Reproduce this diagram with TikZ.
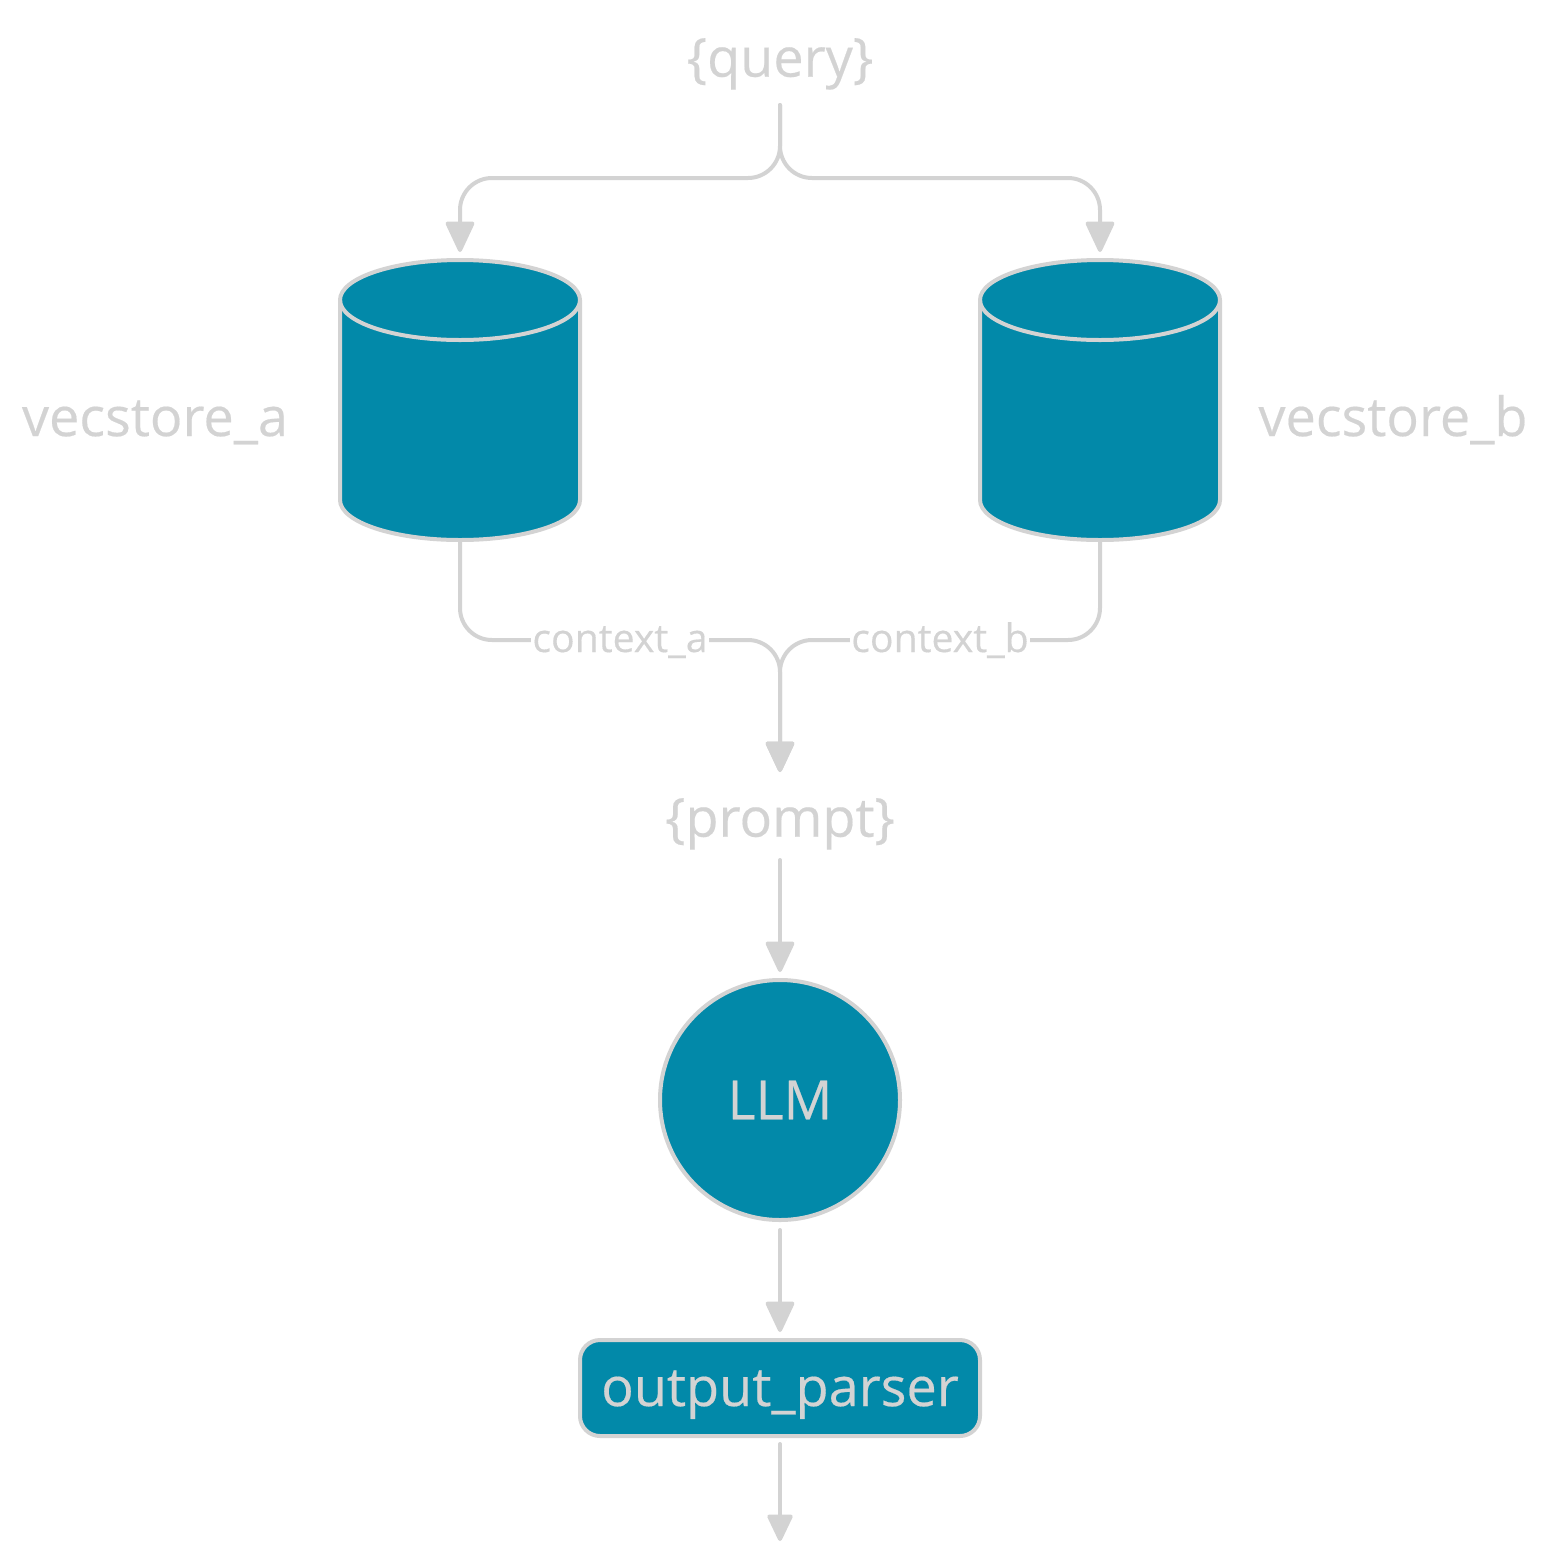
\documentclass[tikz,border=0pt]{standalone}
\usepackage{fontspec}
\setmainfont{Open Sans}[FakeBold=0.35]
\usetikzlibrary{arrows.meta}
\definecolor{stroke}{HTML}{D3D3D3}
\definecolor{teal}{HTML}{0289A9}
\tikzset{
  flow/.style={draw=stroke,line width=3pt,rounded corners=24pt,shorten >=6pt,line cap=round,
    -{Triangle[width=22.5pt,length=25pt,round]}},
  flowend/.style={flow,-{Triangle[width=20pt,length=22pt,round]}},
  txt/.style={text=stroke,font=\fontsize{40.5}{40.5}\selectfont,inner sep=0pt,outer sep=0pt,text height=35pt,text depth=8pt},
  tag/.style={text=stroke,font=\fontsize{29.4}{29.4}\selectfont,fill=white,inner sep=1pt,text height=24pt,text depth=6pt},
  shell/.style={draw=stroke,fill=teal,line width=3pt,outer sep=0pt,inner sep=0pt},
  store/.style={inner sep=0pt,outer sep=0pt,minimum width=180pt,minimum height=210pt},
}
\begin{document}
\begin{tikzpicture}[x=0.75pt,y=-0.75pt]
  \useasboundingbox (0,0) rectangle (1549,1560);

  \node[txt,text height=33pt,minimum height=67.5pt] (query) at (780,60) {\{query\}};
  \node[store] (vecstore_a) at (460,400) {};
  \node[store] (vecstore_b) at (1100,400) {};
  \node[txt] (label_a) at (155,418) {vecstore\_a};
  \node[txt] (label_b) at (1393,418) {vecstore\_b};
  \node[txt,text height=33pt,minimum height=60pt] (prompt) at (780,820) {\{prompt\}};
  \node[shell,circle,minimum size=180pt,text=stroke,font=\fontsize{40.5}{40.5}\selectfont] (llm) at (780,1100) {LLM};
  \node[shell,txt,rounded corners=15pt,minimum width=300pt,minimum height=72pt] (parser) at (780,1388) {output\_parser};

  \foreach \name in {vecstore_a,vecstore_b} {
    \draw[shell] (\name.north west) ++(0,40) -- ++(0,200)
      arc[start angle=180,end angle=360,x radius=90pt,y radius=30pt] -- ++(0,-200)
      arc[start angle=0,end angle=180,x radius=90pt,y radius=30pt] -- cycle;
    \draw[shell,fill=none] (\name.north west) ++(0,40)
      arc[start angle=180,end angle=360,x radius=90pt,y radius=30pt];
  }

  \coordinate (split) at (780,178);
  \coordinate (merge) at (780,640);
  \coordinate (out) at (780,1549);

  \draw[flow] (query.south) -- (split) -| (vecstore_a.north);
  \draw[flow] (query.south) -- (split) -| (vecstore_b.north);
  \draw[flow] (vecstore_a.south) |- (merge) -- (prompt.north);
  \draw[flow] (vecstore_b.south) |- (merge) -- (prompt.north);
  \node[tag] (context_a) at (620,640) {context\_a};
  \node[tag] (context_b) at (940,640) {context\_b};

  \draw[flow] (prompt.south) -- (llm.north);
  \draw[flow] (llm.south) ++(0,10) -- (parser.north);
  \draw[flowend] (parser.south) ++(0,8) -- (out);
\end{tikzpicture}
\end{document}
